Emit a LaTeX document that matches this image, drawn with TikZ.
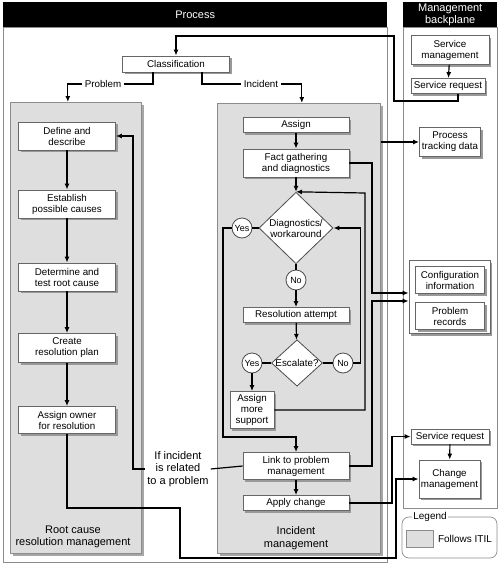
\documentclass[tikz,border=0pt]{standalone}
\usepackage{fontspec}
\setmainfont{Liberation Sans}
\usetikzlibrary{shapes.geometric,shadows,arrows.meta}

\begin{document}
\begin{tikzpicture}[x=1pt,y=-1pt,
    font=\fontsize{9.8}{11}\selectfont,
    box/.style={draw=black!60, line width=0.8pt, fill=white, align=center, inner sep=0pt,
        drop shadow={shadow xshift=2pt, shadow yshift=-2pt, fill=black!40, opacity=1}},
    panel/.style={draw=black!45, line width=0.7pt, fill=black!13, anchor=north west,
        drop shadow={shadow xshift=3pt, shadow yshift=-3pt, fill=black!35, opacity=1}},
    head/.style={fill=black, text=white, align=center, inner sep=0pt, anchor=north west,
        font=\fontsize{11}{12}\selectfont},
    frame/.style={draw=black!45, line width=0.7pt, fill=white, inner sep=0pt, anchor=north west},
    bigtxt/.style={align=center, font=\fontsize{11}{12.5}\selectfont},
    ans/.style={circle, draw=black!70, line width=0.8pt, fill=white, inner sep=0pt,
        minimum size=20pt, font=\fontsize{9}{10}\selectfont},
    dec/.style={diamond, draw=black!70, line width=0.8pt, fill=white, align=center, inner sep=0pt},
    wire/.style={line width=1.2pt},
    arr/.style={-{Latex[length=6pt,width=5pt]}}]

    \useasboundingbox (0,0) rectangle (500,565);

    % the two columns
    \node[frame, minimum width=384pt, minimum height=535pt] (proc) at (3,27) {};
    \node[head, minimum width=384pt, minimum height=25pt] (procHead) at (3,2) {Process};
    \node[frame, minimum width=94pt, minimum height=481pt] (back) at (403,27) {};
    \node[head, minimum width=94pt, minimum height=25pt] (backHead) at (403,2) {Management\\backplane};

    \node[panel, minimum width=131pt, minimum height=451pt] (rcPanel) at (10,102) {};
    \node[panel, minimum width=163pt, minimum height=450pt] (incPanel) at (217,103) {};
    \node[bigtxt] (rcLbl) at (73,537) {Root cause\\resolution management};
    \node[bigtxt] (incLbl) at (296,538) {Incident\\management};

    \node[box, minimum width=107pt, minimum height=16pt] (classif) at (176,64) {Classification};
    \node[inner sep=3pt] (lblProb) at (103,84) {Problem};
    \node[inner sep=3pt] (lblInc) at (261,84) {Incident};

    % root cause column
    \node[box, minimum width=97pt, minimum height=28pt] (define) at (67,136) {Define and\\describe};
    \node[box, minimum width=97pt, minimum height=28pt] (establish) at (67,204) {Establish\\possible causes};
    \node[box, minimum width=97pt, minimum height=28pt] (determine) at (67,277) {Determine and\\test root cause};
    \node[box, minimum width=97pt, minimum height=29pt] (create) at (67,348) {Create\\resolution plan};
    \node[box, minimum width=97pt, minimum height=27pt] (owner) at (67,420) {Assign owner\\for resolution};
    \node[bigtxt, inner sep=2pt] (lblIf) at (178,469) {If incident\\is related\\to a problem};

    % incident column
    \node[box, minimum width=106pt, minimum height=15pt] (assign) at (296,125) {Assign};
    \node[box, minimum width=106pt, minimum height=28pt] (fact) at (296,163) {Fact gathering\\and diagnostics};
    \node[dec, minimum width=74pt, minimum height=70pt] (diag) at (296,228) {Diagnostics/\\workaround};
    \node[ans] (yes1) at (242,228) {Yes};
    \node[ans] (no1) at (296,280) {No};
    \node[box, minimum width=106pt, minimum height=15pt] (attempt) at (296,315) {Resolution attempt};
    \node[dec, aspect=1.1] (esc) at (297,363) {Escalate?};
    \node[ans] (yes2) at (252,363) {Yes};
    \node[ans] (no2) at (343,363) {No};
    \node[box, minimum width=44pt, minimum height=37pt] (more) at (252,410) {Assign\\more\\support};
    \node[box, minimum width=106pt, minimum height=27pt] (link) at (296,466) {Link to problem\\management};
    \node[box, minimum width=106pt, minimum height=15pt] (apply) at (296,503) {Apply change};

    % backplane
    \node[box, minimum width=78pt, minimum height=29pt] (svcMgmt) at (450,50) {Service\\management};
    \node[box, minimum width=74pt, minimum height=15pt] (svcReq) at (448,86) {Service request};
    \node[box, minimum width=61pt, minimum height=29pt] (track) at (450,142) {Process\\tracking data};
    \node[box, minimum width=81pt, minimum height=73pt] (cfg) at (449.5,297) {};
    \node[box, minimum width=69pt, minimum height=27pt] (cfgInfo) at (450,280) {Configuration\\information};
    \node[box, minimum width=69pt, minimum height=27pt] (probRec) at (450,316) {Problem\\records};
    \node[box, minimum width=78pt, minimum height=15pt] (svcReq2) at (450,436.5) {Service request};
    \node[box, minimum width=61pt, minimum height=38pt] (change) at (449.5,479) {Change\\management};

    % legend
    \node[draw=black!45, line width=0.7pt, rounded corners=7pt, minimum width=95pt, minimum height=41pt] (legendBox) at (449.5,537.5) {};
    \node[fill=white, inner sep=1.5pt, font=\fontsize{10}{12}\selectfont] (legend) at (430,517) {Legend};
    \node[draw=black!45, fill=black!13, minimum width=27pt, minimum height=17pt] (swatch) at (419.5,538.5) {};
    \node[font=\fontsize{10}{12}\selectfont] (follows) at (465,539) {Follows ITIL};

    % connectors
    \draw[wire, arr] (svcMgmt) -- (svcReq);
    \draw[wire, arr] ([xshift=10pt]svcReq.south) |- (394,101) -- (394,36) -| (classif.north);
    \draw[wire] ([xshift=-23pt]classif.south) |- (lblProb.east);
    \draw[wire, arr] (lblProb.west) -| ([xshift=-8pt]rcPanel.north);
    \draw[wire] ([xshift=26pt]classif.south) |- (lblInc.west);
    \draw[wire, arr] (lblInc.east) -| ([xshift=3pt]incPanel.north);

    \draw[wire, arr] (define) -- (establish);
    \draw[wire, arr] (establish) -- (determine);
    \draw[wire, arr] (determine) -- (create);
    \draw[wire, arr] (create) -- (owner);
    \draw[wire, arr] (owner.south) |- (180,508) |- (396,558) |- (change.west);
    \draw[wire] (link.west) -- (lblIf.east);
    \draw[wire, arr] (lblIf.west) -| (133,136) -- (define.east);

    \draw[wire, arr] (assign) -- (fact);
    \draw[wire, arr] (fact) -- (diag);
    \draw[wire] (diag) -- (yes1);
    \draw[wire, arr] (yes1.west) -| (223,437) -| (link.north);
    \draw[wire] (diag) -- (no1);
    \draw[wire, arr] (no1) -- (attempt);
    \draw[wire, arr] (attempt) -- (esc);
    \draw[wire] (esc) -- (yes2);
    \draw[wire, arr] (yes2) -- (more);
    \draw[wire] (esc) -- (no2);
    \draw[wire, arr] (no2.east) -- ++(7,0) |- (diag.east);
    \draw[wire, arr] (more.east) -| (365,193) -- (diag.north);
    \draw[wire, arr] (link) -- (apply);

    \draw[wire, arr] (incPanel.east |- track.west) -- (track.west);
    \draw[wire, arr] (fact.east) -| (372,293) -- ([yshift=4pt]cfg.west);
    \draw[wire, arr] (link.east) -| (372,301) -- ([yshift=-4pt]cfg.west);
    \draw[wire, arr] (apply.east) -- (392,503) |- (svcReq2.west);
    \draw[wire, arr] (svcReq2) -- (change);

\end{tikzpicture}
\end{document}
